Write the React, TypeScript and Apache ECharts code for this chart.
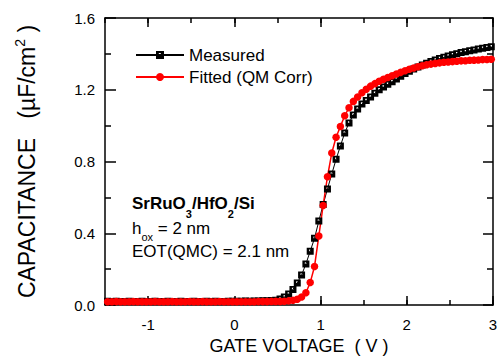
import React, { useEffect, useRef } from "react";
import * as echarts from "echarts";

const voltages = [
  -1.47, -1.42, -1.37, -1.32, -1.27, -1.22, -1.17, -1.12, -1.07, -1.02,
  -0.97, -0.92, -0.87, -0.82, -0.77, -0.72, -0.67, -0.62, -0.57, -0.52,
  -0.47, -0.42, -0.37, -0.32, -0.27, -0.22, -0.17, -0.12, -0.07, -0.02,
  0.03, 0.08, 0.13, 0.18, 0.23, 0.28, 0.33, 0.38, 0.43, 0.48,
  0.53, 0.58, 0.63, 0.68, 0.73, 0.78, 0.83, 0.88, 0.93, 0.98,
  1.03, 1.08, 1.13, 1.18, 1.23, 1.28, 1.33, 1.38, 1.43, 1.48,
  1.53, 1.58, 1.63, 1.68, 1.73, 1.78, 1.83, 1.88, 1.93, 1.98,
  2.03, 2.08, 2.13, 2.18, 2.23, 2.28, 2.33, 2.38, 2.43, 2.48,
  2.53, 2.58, 2.63, 2.68, 2.73, 2.78, 2.83, 2.88, 2.93, 2.98,
];

const measured = [
  0.021, 0.02, 0.021, 0.02, 0.02, 0.021, 0.02, 0.02, 0.021, 0.02,
  0.02, 0.021, 0.02, 0.02, 0.021, 0.02, 0.02, 0.021, 0.02, 0.02,
  0.021, 0.02, 0.02, 0.021, 0.02, 0.021, 0.02, 0.02, 0.021, 0.021,
  0.021, 0.021, 0.022, 0.021, 0.022, 0.022, 0.023, 0.024, 0.025, 0.027,
  0.033, 0.045, 0.061, 0.087, 0.123, 0.167, 0.229, 0.3, 0.372, 0.468,
  0.56, 0.647, 0.73, 0.812, 0.886, 0.959, 1.015, 1.059, 1.093, 1.12,
  1.14, 1.16, 1.18, 1.2, 1.215, 1.23, 1.245, 1.26, 1.275, 1.29,
  1.303, 1.316, 1.327, 1.338, 1.348, 1.358, 1.366, 1.374, 1.381, 1.388,
  1.395, 1.401, 1.407, 1.412, 1.417, 1.422, 1.427, 1.431, 1.435, 1.44,
];

const fitted = [
  0.018, 0.018, 0.019, 0.018, 0.018, 0.018, 0.019, 0.018, 0.018, 0.018,
  0.018, 0.019, 0.018, 0.018, 0.018, 0.019, 0.018, 0.018, 0.018, 0.019,
  0.018, 0.018, 0.019, 0.018, 0.018, 0.018, 0.019, 0.018, 0.018, 0.018,
  0.018, 0.018, 0.018, 0.018, 0.018, 0.019, 0.019, 0.019, 0.02, 0.02,
  0.02, 0.021, 0.023, 0.026, 0.032, 0.045, 0.068, 0.125, 0.215, 0.385,
  0.555, 0.715, 0.847, 0.935, 0.995, 1.055, 1.1, 1.135, 1.16, 1.183,
  1.203, 1.22, 1.234, 1.247, 1.258, 1.268, 1.278, 1.288, 1.297, 1.306,
  1.314, 1.321, 1.328, 1.334, 1.339, 1.343, 1.347, 1.35, 1.353, 1.355,
  1.357, 1.359, 1.361, 1.362, 1.364, 1.365, 1.366, 1.368, 1.369, 1.37,
];

// axis ranges and tick steps
const xMin = -1.5;
const xMax = 3;
const xLabelMin = -1;
const xMajorStep = 1;
const xMinorStep = 0.5;
const yMin = 0;
const yMax = 1.6;
const yMajorStep = 0.4;

const seriesNames = ["Measured", "Fitted (QM Corr)"];
const FONT = "Liberation Sans, Arial, sans-serif";
const squareSymbol = "path://M0,0H10V10H0Z M3.5,2.5V5H6V2.5Z";

export default function App() {
  const ref = useRef<HTMLDivElement>(null);
  useEffect(() => {
    if (!ref.current) return;
    const chart = echarts.init(ref.current, undefined, { renderer: "svg" });
    const W = 497;
    const L = 105, R = 4, T = 18, B = 51;
    const plotW = W - L - R;
    const Lint = L + (plotW * (xLabelMin - xMin)) / (xMax - xMin);
    const black = { color: "#000", width: 1.5 };
    const g = (left: number) => ({ left, right: R, top: T, bottom: B, containLabel: false, outerBoundsMode: "none" });
    const option: any = {
      animation: false,
      backgroundColor: "#fff",
      textStyle: { fontFamily: FONT },
      grid: [g(L), g(L), g(Lint), g(Lint)],
      legend: {
        orient: "vertical",
        left: 130,
        top: 40,
        itemWidth: 48,
        itemHeight: 10,
        itemGap: 2,
        data: seriesNames,
        textStyle: { fontSize: 17, color: "#000", fontFamily: FONT, lineHeight: 20 },
      },
      xAxis: [
        {
          type: "value", gridIndex: 0, position: "bottom", min: xMin, max: xMax, interval: xMinorStep,
          splitLine: { show: false },
          axisLine: { show: true, onZero: false, lineStyle: black },
          axisTick: { show: true, inside: true, length: 5, lineStyle: black },
          axisLabel: { show: false },
          name: "GATE VOLTAGE  ( V )",
          nameLocation: "middle",
          nameGap: 32,
          nameTextStyle: { fontSize: 18, color: "#000", fontFamily: FONT },
        },
        {
          type: "value", gridIndex: 1, position: "top", min: xMin, max: xMax, interval: xMinorStep,
          splitLine: { show: false },
          axisLine: { show: true, onZero: false, lineStyle: black },
          axisTick: { show: true, inside: true, length: 5, lineStyle: black },
          axisLabel: { show: false },
        },
        {
          type: "value", gridIndex: 2, position: "bottom", min: xLabelMin, max: xMax, interval: xMajorStep,
          splitLine: { show: false },
          axisLine: { show: false, onZero: false },
          axisTick: { show: true, inside: true, length: 9, lineStyle: black },
          axisLabel: { show: true, fontSize: 15, color: "#000", margin: 12, fontFamily: FONT },
        },
        {
          type: "value", gridIndex: 3, position: "top", min: xLabelMin, max: xMax, interval: xMajorStep,
          splitLine: { show: false },
          axisLine: { show: false, onZero: false },
          axisTick: { show: true, inside: true, length: 9, lineStyle: black },
          axisLabel: { show: false },
        },
      ],
      yAxis: [
        {
          type: "value", gridIndex: 0, position: "left", min: yMin, max: yMax, interval: yMajorStep,
          splitLine: { show: false },
          axisLine: { show: true, onZero: false, lineStyle: black },
          axisTick: { show: true, inside: true, length: 11, lineStyle: black },
          minorTick: { show: true, splitNumber: 2, length: 6, lineStyle: black },
          axisLabel: {
            show: true, fontSize: 15, color: "#000", margin: 10, fontFamily: FONT,
            formatter: (v: number) => v.toFixed(1),
          },
          name: "{a|CAPACITANCE   (µF/cm}{s|2}{a| )}",
          nameLocation: "middle",
          nameGap: 64,
          nameRotate: 90,
          nameTextStyle: {
            fontFamily: FONT,
            rich: {
              a: { fontSize: 23, color: "#000", fontFamily: FONT },
              s: { fontSize: 14, color: "#000", fontFamily: FONT, padding: [0, 0, 14, 0] },
            },
          },
        },
        {
          type: "value", gridIndex: 1, position: "right", min: yMin, max: yMax, interval: yMajorStep,
          splitLine: { show: false },
          axisLine: { show: true, onZero: false, lineStyle: black },
          axisTick: { show: true, inside: true, length: 10, lineStyle: black },
          minorTick: { show: true, splitNumber: 2, length: 6, lineStyle: black },
          axisLabel: { show: false },
        },
        { type: "value", gridIndex: 2, min: yMin, max: yMax, show: false },
        { type: "value", gridIndex: 3, min: yMin, max: yMax, show: false },
      ],
      graphic: [
        {
          type: "text", x: 132, y: 203,
          style: {
            text: "{b|SrRuO}{bs|3}{b|/HfO}{bs|2}{b|/Si}",
            verticalAlign: "middle",
            rich: {
              b: { fontSize: 17, fontWeight: "bold", fill: "#000", fontFamily: FONT },
              bs: { fontSize: 11, fontWeight: "bold", fill: "#000", fontFamily: FONT, padding: [22, 0, 0, 0] },
            },
          },
        },
        {
          type: "text", x: 132, y: 228,
          style: {
            text: "{n|h}{s|ox}{n| = 2 nm}",
            verticalAlign: "middle",
            rich: {
              n: { fontSize: 17, fill: "#000", fontFamily: FONT },
              s: { fontSize: 11, fill: "#000", fontFamily: FONT, padding: [18, 0, 0, 0] },
            },
          },
        },
        {
          type: "text", x: 132, y: 251,
          style: { text: "EOT(QMC) = 2.1 nm", fontSize: 17, fill: "#000", fontFamily: FONT, verticalAlign: "middle" },
        },
      ],
      series: [
        {
          name: seriesNames[0],
          type: "line",
          xAxisIndex: 0,
          yAxisIndex: 0,
          data: voltages.map((v, i) => [v, measured[i]]),
          symbol: squareSymbol,
          symbolSize: 7,
          showAllSymbol: true,
          itemStyle: { color: "#000" },
          lineStyle: { color: "#000", width: 1 },
        },
        {
          name: seriesNames[1],
          type: "line",
          xAxisIndex: 0,
          yAxisIndex: 0,
          data: voltages.map((v, i) => [v, fitted[i]]),
          symbol: "circle",
          symbolSize: 7.5,
          showAllSymbol: true,
          itemStyle: { color: "#ff0000" },
          lineStyle: { color: "#ff0000", width: 1.5 },
        },
      ],
    };
    chart.setOption(option);
    return () => chart.dispose();
  }, []);
  return <div ref={ref} style={{ position: "fixed", left: 0, top: 0, width: 497, height: 356 }} />;
}
